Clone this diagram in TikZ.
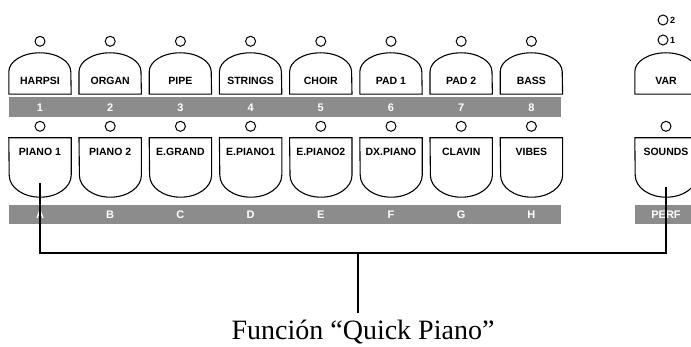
\documentclass[tikz,border=0pt]{standalone}
\usepackage{fontspec}
\setmainfont{Liberation Serif}
\newfontfamily\panelfont{Liberation Sans}
\usepackage{tikz}
\usetikzlibrary{positioning}
\definecolor{stripgray}{gray}{0.55}

\begin{document}
\begin{tikzpicture}[
	x=1pt, y=-1pt,
	node distance=7.8pt,
	keyline/.style={draw, line width=1.1pt},
	topkey/.style={rectangle, minimum width=62pt, minimum height=22pt, inner sep=0pt, font=\panelfont\bfseries\fontsize{10.5}{12}\selectfont, text height=7pt, text depth=4pt},
	lowkey/.style={rectangle, minimum width=62pt, minimum height=37pt, inner sep=0pt, font=\panelfont\bfseries\fontsize{10.5}{12}\selectfont, text height=7pt, text depth=8pt},
	led/.style={draw, circle, line width=1pt, minimum size=10pt, inner sep=0pt},
	ledtext/.style={inner sep=0pt, font=\panelfont\bfseries\fontsize{9}{10}\selectfont},
	strip/.style={fill=stripgray, anchor=north west, inner sep=0pt},
	striptext/.style={text=white, inner sep=0pt, text height=8pt, text depth=0pt, font=\panelfont\bfseries\fontsize{11}{12}\selectfont},
	wire/.style={draw, line width=2pt},
	caption/.style={inner sep=0pt, text height=27pt, font=\fontsize{28}{32}\selectfont},
	]
	\useasboundingbox (0,0) rectangle (691,347);
	
	% Strips under the key rows
	\node[strip, minimum width=552pt, minimum height=20pt] (numstrip) at (9,97) {};
	\node[strip, minimum width=552pt, minimum height=19pt] (letterstrip) at (9,205) {};
	\node[strip, minimum width=60pt, minimum height=19pt] (perfstrip) at (635,205) {};
	
	% Upper row of keys
	\node[topkey] (harpsi) at (40,83) {HARPSI};
	\node[topkey, right=of harpsi] (organ) {ORGAN};
	\node[topkey, right=of organ] (pipe) {PIPE};
	\node[topkey, right=of pipe] (strings) {STRINGS};
	\node[topkey, right=of strings] (choir) {CHOIR};
	\node[topkey, right=of choir] (padone) {PAD 1};
	\node[topkey, right=of padone] (padtwo) {PAD 2};
	\node[topkey, right=of padtwo] (bass) {BASS};
	\node[topkey] (var) at (666,83) {VAR};
	
	% Lower row of keys
	\node[lowkey] (piano1) at (40,156.5) {PIANO 1};
	\node[lowkey, right=of piano1] (piano2) {PIANO 2};
	\node[lowkey, right=of piano2] (egrand) {E.GRAND};
	\node[lowkey, right=of egrand] (epiano1) {E.PIANO1};
	\node[lowkey, right=of epiano1] (epiano2) {E.PIANO2};
	\node[lowkey, right=of epiano2] (dxpiano) {DX.PIANO};
	\node[lowkey, right=of dxpiano] (clavin) {CLAVIN};
	\node[lowkey, right=of clavin] (vibes) {VIBES};
	\node[lowkey] (sounds) at (666,156.5) {SOUNDS};
	
	% Key outlines
	\foreach \k in {harpsi,organ,pipe,strings,choir,padone,padtwo,bass,var}
	\draw[keyline] (\k.south west) -- (\k.north west) arc[start angle=180, end angle=0, x radius=31pt, y radius=19pt] -- (\k.south east) -- cycle;
	\foreach \k in {piano1,piano2,egrand,epiano1,epiano2,dxpiano,clavin,vibes,sounds}
	\draw[keyline] (\k.north west) -- (\k.north east) -- (\k.south east) arc[start angle=0, end angle=-180, x radius=31pt, y radius=22pt] -- cycle;
	
	% Lamps
	\node[led, above=25pt of harpsi] (lharpsi) {};
	\node[led, above=25pt of organ] (lorgan) {};
	\node[led, above=25pt of pipe] (lpipe) {};
	\node[led, above=25pt of strings] (lstrings) {};
	\node[led, above=25pt of choir] (lchoir) {};
	\node[led, above=25pt of padone] (lpadone) {};
	\node[led, above=25pt of padtwo] (lpadtwo) {};
	\node[led, above=25pt of bass] (lbass) {};
	\node[led] (lvartwo) at (663,20) {};
	\node[led, below=9pt of lvartwo] (lvarone) {};
	\node[ledtext, right=1.5pt of lvartwo] (vartwo) {2};
	\node[ledtext, right=1.5pt of lvarone] (varone) {1};
	
	\node[led, above=6pt of piano1] (lpiano1) {};
	\node[led, above=6pt of piano2] (lpiano2) {};
	\node[led, above=6pt of egrand] (legrand) {};
	\node[led, above=6pt of epiano1] (lepiano1) {};
	\node[led, above=6pt of epiano2] (lepiano2) {};
	\node[led, above=6pt of dxpiano] (ldxpiano) {};
	\node[led, above=6pt of clavin] (lclavin) {};
	\node[led, above=6pt of vibes] (lvibes) {};
	\node[led, above=6pt of sounds] (lsounds) {};
	
	% Strip labels
	\node[striptext] (n1) at (harpsi |- numstrip) {1};
	\node[striptext] (n2) at (organ |- numstrip) {2};
	\node[striptext] (n3) at (pipe |- numstrip) {3};
	\node[striptext] (n4) at (strings |- numstrip) {4};
	\node[striptext] (n5) at (choir |- numstrip) {5};
	\node[striptext] (n6) at (padone |- numstrip) {6};
	\node[striptext] (n7) at (padtwo |- numstrip) {7};
	\node[striptext] (n8) at (bass |- numstrip) {8};
	\node[striptext] (la) at (piano1 |- letterstrip) {A};
	\node[striptext] (lb) at (piano2 |- letterstrip) {B};
	\node[striptext] (lc) at (egrand |- letterstrip) {C};
	\node[striptext] (ld) at (epiano1 |- letterstrip) {D};
	\node[striptext] (le) at (epiano2 |- letterstrip) {E};
	\node[striptext] (lf) at (dxpiano |- letterstrip) {F};
	\node[striptext] (lg) at (clavin |- letterstrip) {G};
	\node[striptext] (lh) at (vibes |- letterstrip) {H};
	\node[striptext] (lperf) at (sounds |- perfstrip) {PERF};
	
	% Caption and bracket
	\coordinate (bar) at (358,253);
	\node[caption, anchor=base] (quick) at (363,340) {Función “Quick Piano”};
	\draw[wire] ([yshift=-8pt]piano1.south) -- (piano1 |- bar) -- (sounds |- bar) -- ([yshift=-12pt]sounds.south);
	\draw[wire] (bar) -- (bar |- quick.north);
	
\end{tikzpicture}
\end{document}
